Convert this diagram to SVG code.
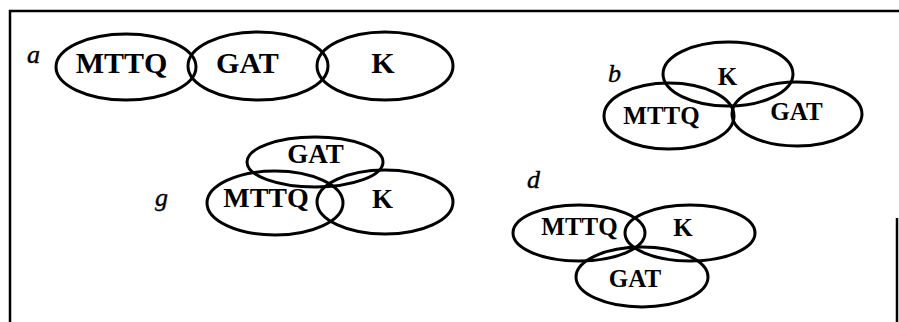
<svg xmlns="http://www.w3.org/2000/svg" width="899" height="322" viewBox="0 0 899 322">
<style>
.e{fill:none;stroke:#000;stroke-width:3}
.t{font-family:"Liberation Serif","Times New Roman",serif;font-weight:bold;text-anchor:middle;fill:#000}
.l{font-family:"Liberation Serif","Times New Roman",serif;font-style:italic;font-size:26px;fill:#000;stroke:#000;stroke-width:0.4}
.b{fill:none;stroke:#000;stroke-width:2.5}
</style>
<rect width="899" height="322" fill="#fff"/>
<g id="frame">
<path class="b" d="M10,322 V11 H899"/>
<path class="b" d="M897,218 V322"/>
</g>
<g id="connectors"></g>
<g id="group-a">
<text class="l" x="27" y="63">a</text>
<g id="a-mttq"><ellipse class="e" cx="126" cy="67" rx="70" ry="33"/><text class="t" x="121.5" y="73" font-size="30">MTTQ</text></g>
<g id="a-gat"><ellipse class="e" cx="258" cy="66" rx="70" ry="34"/><text class="t" x="247.5" y="73" font-size="30">GAT</text></g>
<g id="a-k"><ellipse class="e" cx="385" cy="66" rx="68" ry="34"/><text class="t" x="383" y="73" font-size="30">K</text></g>
</g>
<g id="group-b">
<text class="l" x="608" y="82">b</text>
<g id="b-k"><ellipse class="e" cx="728" cy="74" rx="65" ry="32"/><text class="t" x="727.5" y="85" font-size="25">K</text></g>
<g id="b-mttq"><ellipse class="e" cx="669" cy="116" rx="65" ry="33"/><text class="t" x="661.5" y="124" font-size="25">MTTQ</text></g>
<g id="b-gat"><ellipse class="e" cx="797" cy="114" rx="65" ry="32"/><text class="t" x="796.5" y="120" font-size="25">GAT</text></g>
</g>
<g id="group-g">
<text class="l" x="155" y="206">g</text>
<g id="g-gat"><ellipse class="e" cx="315" cy="162" rx="68" ry="25"/><text class="t" x="315.5" y="163" font-size="27">GAT</text></g>
<g id="g-mttq"><ellipse class="e" cx="275" cy="203" rx="68" ry="32"/><text class="t" x="266" y="207" font-size="28">MTTQ</text></g>
<g id="g-k"><ellipse class="e" cx="385" cy="202" rx="68" ry="32"/><text class="t" x="382.5" y="208" font-size="27">K</text></g>
</g>
<g id="group-d">
<text class="l" x="527" y="188">d</text>
<g id="d-mttq"><ellipse class="e" cx="579" cy="233" rx="66" ry="28"/><text class="t" x="579.5" y="235" font-size="25">MTTQ</text></g>
<g id="d-k"><ellipse class="e" cx="690" cy="233" rx="65" ry="28"/><text class="t" x="683" y="236" font-size="25">K</text></g>
<g id="d-gat"><ellipse class="e" cx="642" cy="277" rx="66" ry="30"/><text class="t" x="635" y="287" font-size="25">GAT</text></g>
</g>
</svg>
